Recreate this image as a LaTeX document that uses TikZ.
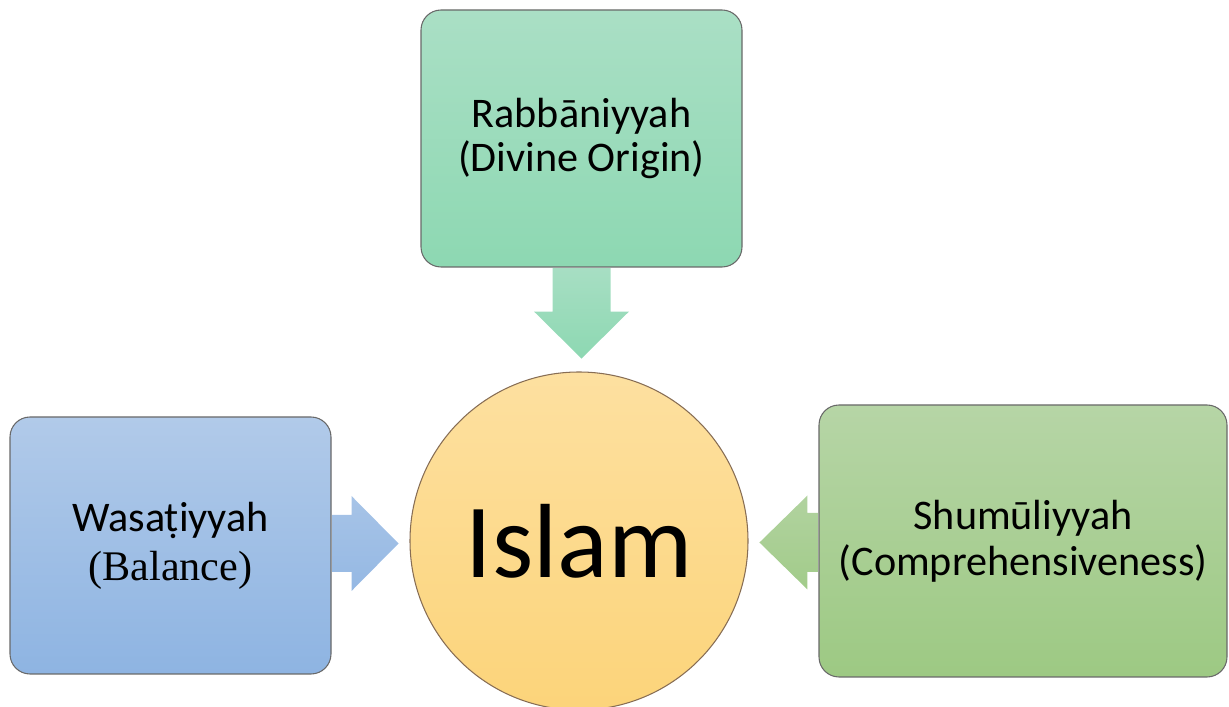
\documentclass[tikz,border=0pt]{standalone}
\usepackage{fontspec}
\setmainfont{Carlito}
\newfontfamily\timesfont{Liberation Serif}
\usetikzlibrary{calc}

\definecolor{rabbtop}{RGB}{170,223,197}
\definecolor{rabbbot}{RGB}{141,216,178}
\definecolor{wasattop}{RGB}{177,202,233}
\definecolor{wasatbot}{RGB}{142,180,226}
\definecolor{shumtop}{RGB}{182,213,166}
\definecolor{shumbot}{RGB}{157,201,131}
\definecolor{islamtop}{RGB}{253,224,160}
\definecolor{islambot}{RGB}{252,212,122}
\definecolor{rimgray}{RGB}{105,105,105}

\begin{document}
\begin{tikzpicture}[line width = 0.6pt,
                        pillar/.style = {rounded corners = 0.4cm, draw = rimgray, inner sep = 0pt,
                                         align = center, font = \fontsize{24}{25}\selectfont},
                        core/.style = {circle, draw = rimgray!80!orange, inner sep = 0pt,
                                       minimum size = 6.76cm, font = \fontsize{60}{60}\selectfont}]
      \useasboundingbox (0, 0) rectangle (24.58, 14.14);
      \node [pillar, minimum width = 6.42cm, minimum height = 5.14cm,
             top color = rabbtop, bottom color = rabbbot] (rabb) at (11.63, 11.37)
             {Rabbāniyyah\\(Divine Origin)};
      \node [pillar, minimum width = 6.42cm, minimum height = 5.14cm,
             top color = wasattop, bottom color = wasatbot] (wasat) at (3.41, 3.23)
             {Wasaṭiyyah\\[3pt]{\timesfont (Balance)}};
      \node [pillar, minimum width = 8.16cm, minimum height = 5.44cm,
             top color = shumtop, bottom color = shumbot] (shum) at (20.46, 3.32)
             {Shumūliyyah\\[1pt](Comprehensiveness)};
      \node [core, top color = islamtop, bottom color = islambot] (islam) at (11.58, 3.32) {Islam};
      % block arrows into the circle
      \shade [top color = rabbtop!90!rabbbot, bottom color = rabbbot]
        ($(rabb.south) + (-0.58, -0.01)$) -- ++(0, -0.87) -- ++(-0.37, 0) -- ++(0.95, -0.94)
        -- ++(0.95, 0.94) -- ++(-0.37, 0) -- ++(0, 0.87) -- cycle;
      \shade [top color = wasattop!70!wasatbot, bottom color = wasatbot!80!wasattop]
        ($(wasat.east) + (0.01, 0.61)$) -- ++(0.39, 0) -- ++(0, 0.38) -- ++(0.94, -0.95)
        -- ++(-0.94, -0.95) -- ++(0, 0.38) -- ++(-0.39, 0) -- cycle;
      \shade [top color = shumtop!80!shumbot, bottom color = shumbot!80!shumtop]
        ($(shum.west) + (-0.01, 0.56)$) -- ++(-0.21, 0) -- ++(0, 0.35) -- ++(-0.96, -0.94)
        -- ++(0.96, -0.94) -- ++(0, 0.35) -- ++(0.21, 0) -- cycle;
    \end{tikzpicture}
\end{document}
